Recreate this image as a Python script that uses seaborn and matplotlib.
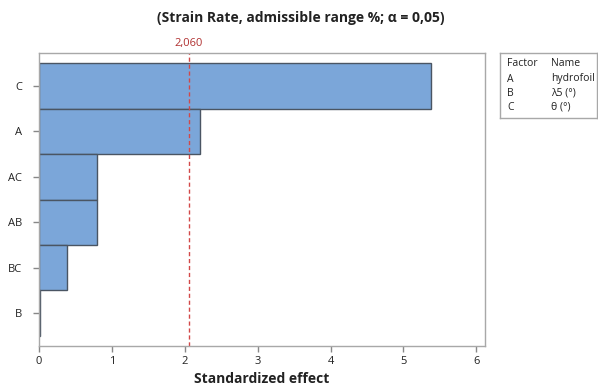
import matplotlib
matplotlib.use("Agg")
import matplotlib.pyplot as plt
import seaborn as sns
import pandas as pd

# Pareto of standardized effects
terms = ["C", "A", "AC", "AB", "BC", "B"]
effects = [5.38, 2.21, 0.80, 0.79, 0.39, 0.01]
critical_value = 2.060
x_ticks = [0, 1, 2, 3, 4, 5, 6]

factor_codes = ["A", "B", "C"]
factor_names = ["hydrofoil", "λ5 (°)", "θ (°)"]

sns.set_theme(style="white")
plt.rcParams["font.family"] = ["Open Sans", "DejaVu Sans"]

df = pd.DataFrame({"term": terms, "effect": effects})

fig = plt.figure(figsize=(5.98, 3.88), dpi=100)
ax = fig.add_axes([39 / 598, 1 - 346 / 388, (485 - 39) / 598, (346 - 53) / 388])

sns.barplot(data=df, x="effect", y="term", orient="h", order=terms,
            color="#7ba6d9", saturation=1, width=1.0,
            edgecolor="#4a5563", linewidth=1.0, ax=ax)

ax.set_xlim(0, 6.12)
ax.set_ylim(5.73, -0.73)
ax.set_xticks(x_ticks)
ax.set_xticklabels([str(t) for t in x_ticks])

for s in ax.spines.values():
    s.set_color("#a8a8a8")
    s.set_linewidth(1.0)

ax.tick_params(axis="both", which="both", length=4, width=1, color="#888888",
               labelsize=8, labelcolor="#222222", pad=3, direction="out")
ax.tick_params(axis="y", pad=8)
ax.tick_params(bottom=True, left=True)

ax.set_ylabel("")
ax.set_xlabel("Standardized effect", fontsize=10, fontweight="bold",
              color="#222222", labelpad=4)

# Critical value reference line
ax.axvline(critical_value, color="#d24848", linestyle=(0, (3, 2)), linewidth=1.0)
ax.text(critical_value, 1.012, f"{critical_value:.3f}".replace(".", ","),
        transform=ax.get_xaxis_transform(), ha="center", va="bottom",
        color="#b03030", fontsize=8)

fig.text(301 / 598, 1 - 18 / 388,
         "(Strain Rate, admissible range %; α = 0,05)",
         ha="center", va="center", fontsize=10, fontweight="bold", color="#222222")

# Factor key box
bx0, bx1, by0, by1 = 500, 597, 53, 118
box_ax = fig.add_axes([bx0 / 598, 1 - by1 / 388, (bx1 - bx0) / 598, (by1 - by0) / 388])
box_ax.set_xticks([])
box_ax.set_yticks([])
for s in box_ax.spines.values():
    s.set_color("#a8a8a8")
    s.set_linewidth(1.0)


def put(px, py, txt):
    box_ax.text((px - bx0) / (bx1 - bx0), 1 - (py - by0) / (by1 - by0), txt,
                fontsize=7.5, va="center", ha="left", color="#222222",
                transform=box_ax.transAxes)


rows_y = [64, 79, 93, 107]
put(507, rows_y[0], "Factor")
put(551, rows_y[0], "Name")
for code, name, yy in zip(factor_codes, factor_names, rows_y[1:]):
    put(507, yy, code)
    put(551, yy, name)

fig.savefig("out.png", dpi=100)
